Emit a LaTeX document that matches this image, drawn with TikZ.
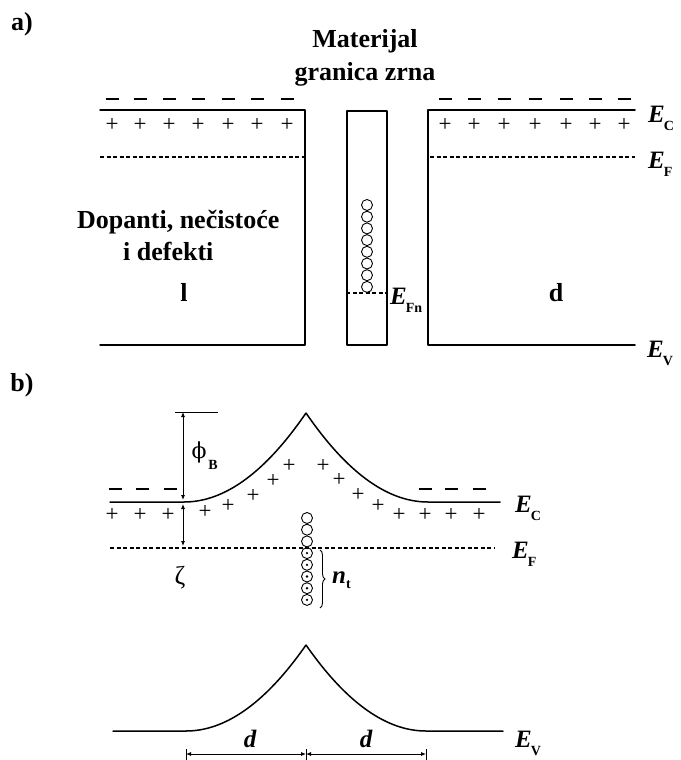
\documentclass[tikz,border=0pt]{standalone}
\usepackage{fontspec}
\setmainfont{Liberation Serif}
\newfontfamily\grkfont{DejaVu Serif}
\usetikzlibrary{arrows.meta,decorations.pathreplacing}

\newcommand{\enlev}[1]{{\bfseries\itshape E}\kern-1pt\raisebox{-8pt}{\fontsize{14}{14}\selectfont\bfseries #1}}

\begin{document}
\begin{tikzpicture}[x=1pt,y=-1pt,every node/.style={inner sep=0pt},
   band/.style={line width=1.5pt,line cap=round,line join=round},
   fermi/.style={line width=1.1pt,dash pattern=on 4pt off 2.5pt},
   lbl/.style={font=\fontsize{26}{26}\selectfont\bfseries},
   lev/.style={font=\fontsize{25}{25}\selectfont,anchor=base west},
   chg/.style={font=\fontsize{23}{23}\selectfont},
   neg/.style={line width=1.3pt},
   trap/.style={circle,draw,line width=0.9pt,minimum size=11pt},
   trapfull/.style={trap,path picture={\fill (path picture bounding box.center) circle (1.3pt);}},
   dim/.style={line width=0.8pt,{Latex[length=5pt,width=4pt]}-{Latex[length=5pt,width=4pt]}}]
  \useasboundingbox (0,0) rectangle (680,760);
  % a) flat bands
  \node[lbl] (pa) at (22,24) {a)};
  \node[lbl,anchor=base] (mat1) at (365,48) {Materijal};
  \node[lbl,anchor=base] (mat2) at (365,81) {granica zrna};
  \coordinate (lct) at (100,110); \coordinate (lcr) at (305,110);
  \coordinate (lvr) at (305,345); \coordinate (lvl) at (100,345);
  \coordinate (rct) at (635,110); \coordinate (rcl) at (428,110);
  \coordinate (rvl) at (428,345); \coordinate (rvr) at (635,345);
  \draw[band] (lct)--(lcr)--(lvr)--(lvl);
  \draw[band] (rct)--(rcl)--(rvl)--(rvr);
  \node[draw,band,minimum width=40pt,minimum height=234pt] (gb) at (367,228) {};
  \draw[fermi] (100,157)--(305,157);
  \draw[fermi] (430,157)--(635,157);
  \draw[fermi] (gb.west |- 0,293)--(gb.east |- 0,293);
  \foreach \x in {112,140,169,198,228,257,287,445,474,504,535,566,595,624}{
    \draw[neg] (\x-6.5,99)--(\x+6.5,99);
    \node[chg] at (\x,125) {+};}
  \foreach \i in {0,...,7}\node[trap] (ta\i) at (367,{205+11.7*\i}) {};
  \node[lev] (ec1) at (648,122) {\enlev{C}};
  \node[lev] (ef1) at (648,168) {\enlev{F}};
  \node[lev] (ev1) at (647,357) {\enlev{V}};
  \node[lev] (efn) at (390,304) {\enlev{Fn}};
  \node[lbl,anchor=base west] (dop) at (77,228) {Dopanti, nečistoće};
  \node[lbl,anchor=base west] (def) at (123,260) {i defekti};
  \node[lbl,anchor=base] (gl) at (184,301) {l};
  \node[lbl,anchor=base] (gd) at (556,301) {d};
  % b) bent bands
  \node[lbl] (pb) at (22,385) {b)};
  \draw[band] (110,502)--(184,502)
    -- plot[domain=184:306,samples=40] (\x,{502-89*((\x-184)/122)^2})
    -- plot[domain=306:428,samples=40] (\x,{502-89*((428-\x)/122)^2})--(500,502);
  \draw[fermi] (110,548)--(495,548);
  \foreach \x in {115,142,170,425,451,479}\draw[neg] (\x-6.5,489)--(\x+6.5,489);
  \foreach \x/\y in {112/515,140/515,168/515,205/512,228/506,253/496,273/481,289/466,
    323/466,339/480,358/495,378/506,399/515,425/515,451/515,479/515}\node[chg] at (\x,\y) {+};
  \coordinate (phtop) at (183,412);
  \draw[line width=1pt] (175,412)--(218,412);
  \draw[dim] (phtop)--(183,500);
  \draw[dim] (183,504)--(183,546);
  \node[font=\fontsize{22}{22}\selectfont\grkfont] (phi) at (199,452) {ϕ};
  \node[font=\fontsize{14}{14}\selectfont\bfseries] (phib) at (213,465) {B};
  \node[font=\fontsize{26}{26}\selectfont] (zeta) at (180,578) {ζ};
  \foreach \i in {0,...,7}{
    \ifnum\i<3 \node[trap] (tb\i) at (307,{518+11.7*\i}) {};
    \else \node[trapfull] (tb\i) at (307,{518+11.7*\i}) {};\fi}
  \draw[decorate,decoration={brace,amplitude=5pt},line width=0.9pt] (320,550)--(320,608);
  \node[lev] (nt) at (332,583) {{\bfseries\itshape n}\raisebox{-5pt}{\fontsize{14}{14}\selectfont\bfseries t}};
  \node[lev] (ec2) at (515,512) {\enlev{C}};
  \node[lev] (ef2) at (512,558) {\enlev{F}};
  \draw[band] (113,731)--(186,731)
    -- plot[domain=186:306,samples=40] (\x,{731-86*((\x-186)/120)^2})
    -- plot[domain=306:426,samples=40] (\x,{731-86*((426-\x)/120)^2})--(503,731);
  \node[lev] (ev2) at (515,747) {\enlev{V}};
  \coordinate (d0) at (186,754); \coordinate (d1) at (306,754); \coordinate (d2) at (426,754);
  \foreach \c in {d0,d1,d2}\draw[line width=0.8pt] ([yshift=-7pt]\c)--([yshift=5pt]\c);
  \draw[dim] (d0)--(d1);
  \draw[dim] (d1)--(d2);
  \node[font=\fontsize{25}{25}\selectfont\bfseries\itshape,anchor=base] (dl) at (250,747) {d};
  \node[font=\fontsize{25}{25}\selectfont\bfseries\itshape,anchor=base] (dr) at (366,747) {d};
\end{tikzpicture}
\end{document}
